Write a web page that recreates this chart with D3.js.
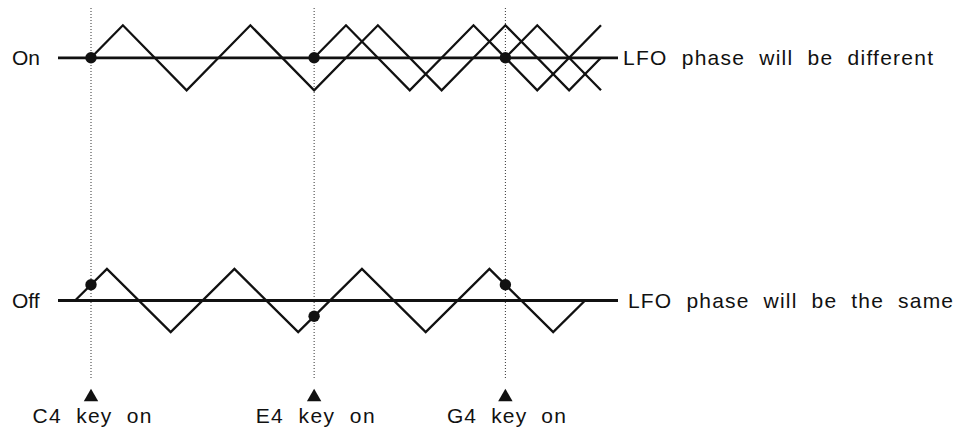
<!DOCTYPE html>
<meta charset="utf-8">
<head>
    <title></title>
    <script src="https://cdn.jsdelivr.net/npm/d3@7/dist/d3.min.js"></script>
</head>

<style>
    body{
      margin: 0;
      background: #fff;
    }
    text{
      font-family: "Liberation Sans", Arial, sans-serif;
      font-size: 21px;
      fill: #111;
      white-space: pre;
    }
</style>
<svg width="958" height="442"></svg>

<script>
    // time is counted in quarter LFO cycles, level runs from -1 (trough) to 1 (peak)
    var keyLabels = ['C4  key  on', 'E4  key  on', 'G4  key  on'],
        keyTimes = [0, 7, 13],
        rowLabels = ['On', 'Off'],
        rowNotes = ['LFO  phase  will  be  different', 'LFO  phase  will  be  the  same'];

    // key sync on: each key restarts the LFO
    var onWaveC4 = [[0,0],[1,1],[3,-1],[5,1],[7,-1],[9,1],[11,-1],[13,1],[15,-1],[16,0]],
        onWaveE4 = [[7,0],[8,1],[10,-1],[12,1],[14,-1],[16,1]],
        onWaveG4 = [[13,0],[14,1],[16,-1]],
        onDotLevels = [0, 0, 0];

    // key sync off: one free running LFO
    var offWave = [[-0.5,0],[0.5,1],[2.5,-1],[4.5,1],[6.5,-1],[8.5,1],[10.5,-1],[12.5,1],[14.5,-1],[15.5,0]],
        offDotLevels = [0.5, -0.5, 0.5];

    var svg = d3.select('svg');

    var x = d3.scaleLinear().domain([0, 16]).range([91, 601]),
        yOn = d3.scaleLinear().domain([-1, 1]).range([90.3, 25.3]),
        yOff = d3.scaleLinear().domain([-1, 1]).range([332.1, 268.9]);

    var rows = [
        {label: rowLabels[0], note: rowNotes[0], y: yOn, waves: [onWaveC4, onWaveE4, onWaveG4], dots: onDotLevels, noteX: 623, noteLen: 310},
        {label: rowLabels[1], note: rowNotes[1], y: yOff, waves: [offWave], dots: offDotLevels, noteX: 628, noteLen: 325}
    ];

    // dotted key-on guides
    svg.selectAll('line.guide').data(keyTimes).enter().append('line')
        .attr('class', 'guide')
        .attr('x1', function(d){ return x(d); })
        .attr('x2', function(d){ return x(d); })
        .attr('y1', 8)
        .attr('y2', 380)
        .style('stroke', '#333')
        .style('stroke-width', 1)
        .style('stroke-dasharray', '1,2');

    rows.forEach(function(r){
        var g = svg.append('g'),
            y0 = r.y(0);

        g.append('line')
            .attr('x1', 58).attr('x2', 618)
            .attr('y1', y0).attr('y2', y0)
            .style('stroke', '#111')
            .style('stroke-width', 2.8);

        var line = d3.line()
            .x(function(d){ return x(d[0]); })
            .y(function(d){ return r.y(d[1]); });

        g.selectAll('path').data(r.waves).enter().append('path')
            .attr('d', line)
            .style('fill', 'none')
            .style('stroke', '#111')
            .style('stroke-width', 2.3)
            .style('stroke-linejoin', 'miter');

        g.selectAll('circle').data(r.dots).enter().append('circle')
            .attr('cx', function(d, i){ return x(keyTimes[i]); })
            .attr('cy', function(d){ return r.y(d); })
            .attr('r', 5.7)
            .style('fill', '#111');

        g.append('text')
            .attr('x', 12)
            .attr('y', y0 + 7.5)
            .text(r.label);

        g.append('text')
            .attr('x', r.noteX)
            .attr('y', y0 + 7.5)
            .attr('textLength', r.noteLen)
            .attr('lengthAdjust', 'spacing')
            .text(r.note);
    });

    // key-on markers
    svg.selectAll('path.marker').data(keyTimes).enter().append('path')
        .attr('class', 'marker')
        .attr('d', d3.symbol().type(d3.symbolTriangle).size(90))
        .attr('transform', function(d){ return 'translate(' + x(d) + ',397)'; })
        .style('fill', '#111');

    svg.selectAll('text.key').data(keyLabels).enter().append('text')
        .attr('class', 'key')
        .attr('x', function(d, i){ return x(keyTimes[i]) + 1; })
        .attr('y', 423)
        .attr('text-anchor', 'middle')
        .attr('textLength', 119)
        .attr('lengthAdjust', 'spacing')
        .text(function(d){ return d; });
</script>
